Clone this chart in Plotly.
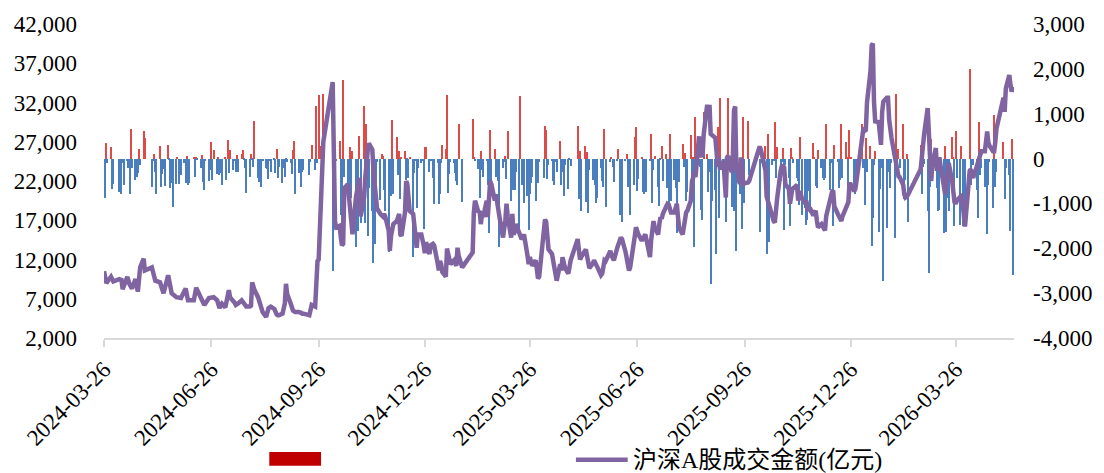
import pandas as pd
import plotly.graph_objects as go

# ---------------- data ----------------
start_date = "2024-03-26"
end_date = "2026-05-15"

market_holidays = [
    "2024-04-04", "2024-04-05", "2024-05-01", "2024-05-02", "2024-05-03", "2024-06-10",
    "2024-09-16", "2024-09-17", "2024-10-01", "2024-10-02", "2024-10-03", "2024-10-04",
    "2024-10-07", "2025-01-01", "2025-01-28", "2025-01-29", "2025-01-30", "2025-01-31",
    "2025-02-03", "2025-02-04", "2025-04-04", "2025-05-01", "2025-05-02", "2025-05-05",
    "2025-06-02", "2025-10-01", "2025-10-02", "2025-10-03", "2025-10-06", "2025-10-07",
    "2025-10-08", "2026-01-01", "2026-01-02", "2026-02-16", "2026-02-17", "2026-02-18",
    "2026-02-19", "2026-02-20", "2026-02-23", "2026-04-06", "2026-05-01", "2026-05-04",
    "2026-05-05",
]

# daily bar values (right axis), one sub-list per month
bars_2024 = [
    [-330, -880, 350, -100],
    [250, -680, -570, -740, -100, -800, -100, -600, -60, -220, -780, 650, -220, -480, -400, -330, 210, -140, 620, 460],
    [-640, -50, 100, -290, -780, 290, -630, -350, -230, -610, 310, -40, -660, -550, -1080, -570, 30, -570, -160, -360],
    [-100, -550, 60, -580, -550, 20, -420, 20, -30, -210, 80, -520, -700, -60, -490, -250, 360, -480, 190],
    [-350, 20, -360, -330, -580, 30, -470, 420, -320, 200, -250, -50, -290, 80, -300, 110, 200, -30, -200, -770, -400, 110, -40],
    [-180, 830, -440, -520, -290, -640, -50, -200, -240, -460, -60, -290, -40, -320, 210, -440, -180, -550, -220, -400, -30, -80],
    [-90, -350, 200, 400, -800, -330, -220, -640, -290, -250, -360, -70, 300, -250, 1170, -90, 1410, 270, 1450],
    [-2500, -150, -100, -60, 400, -1250, -1900, 1760, -400, -650, -580, 260, -880, 170, -1980, -440, -1610, 510],
    [-1430, 1170, -1430, 780, -1730, -660, -1170, -2330, -1900, -1100, -80, -920, 100, 50, -700, -1170, -2090, -420, -840, 860, -780],
    [480, -360, 170, -910, 40, 180, -480, -30, -440, 30, -2200, -330, -60, -1100, -200, -100, -50, -1580, 250, 250, -290, -60],
]
bars_2025 = [
    [-430, -1020, -100, -1020, -800, -100, 300, 220, 1420, -770, -350, -80, -100, -320, -500, -600, 770, -970],
    [880, 30, -60, -230, -880, 160, -250, -400, -50, -600, -1670, 630, -700, 220, -400, -330, -510, -1980],
    [-210, -70, 50, -450, 610, -940, -430, -710, -690, -290, -1600, 1390, -600, -450, -990, -840, -1600, -800, -550, -400, -940],
    [-250, -550, -80, -430, 730, 630, -450, -140, -60, -510, -600, -70, -290, 390, -600, -300, -840, -140, -680, -40, -160],
    [730, -900, 170, -1170, 270, -970, 150, -1210, -260, -470, -230, -580, -990, -880, -200, -490, -640, 660, -1080],
    [-70, 40, -180, -520, -50, 210, -1260, -440, -1410, -60, 110, -640, -360, -1260, -580, 490, 710, -730, -460, 30],
    [-750, -790, -140, -750, -60, 540, -990, -260, 60, -640, -1050, -40, 270, -490, 110, -660, -1010, 550, -950, -470, -650, -1650, -200],
    [-520, 330, -180, 130, -950, -750, 520, -400, 30, -1980, 930, -140, -180, -1140, -1360, 1040, 100, -750, -300, -2800, -950],
    [-700, -2120, 700, -1330, 1350, -150, -290, -1410, -400, 1350, -1080, -300, -1170, -840, -2070, -800, -200, -1580, 930, -980, 830, -360],
    [-1630, -100, -150, 270, -2120, 540, -1870, -140, -60, 820, -440, 260, -500, -70, 230, -1600, -140],
    [-430, -1500, 240, 30, -100, -440, -510, -1030, 490, -1250, -1100, -1470, -1360, -730, -1210, 350, 40, -620, -660, 190],
    [-210, -440, -470, -440, 760, -690, -70, -100, -1500, 300, -80, -660, -470, 780, -440, 360, 30, -730, 630, 30, -620, -800, -290],
]
bars_2026 = [
    [770, -200, -1030, 460, -300, 280, -1950, -1320, -150, 170, -1640, -670, -200, -80, -2740, -1540, -300, -150, -660, -100],
    [-1780, 1430, -300, 210, -200, 770, -910, -480, 100, -1410, 300, -800, -180, -120],
    [-1170, -2540, -640, 430, -510, -210, -660, -1160, -1140, -330, -1650, 290, -1630, -880, -1160, 490, 20, -1500, 610, -440, -1470, 280],
    [-1510, -1400, -1510, 2000, -580, -100, -150, -690, -1330, 820, -360, -200, -640, -440, -1690, -600, -70, -1110, 980, -640, -300],
    [380, -910, -210, -360, -1610, 430, -2590, -1170],
]

# line: 沪深A股成交金额(亿元), left axis
line_days_2024 = [
    "03-26", "03-27", "03-28", "04-01", "04-03", "04-08", "04-10", "04-11", "04-15", "04-17",
    "04-19", "04-22", "04-24", "04-26", "04-29", "04-30", "05-06", "05-09", "05-13", "05-16",
    "05-20", "05-23", "05-27", "05-31", "06-04", "06-06", "06-11", "06-13", "06-17", "06-20",
    "06-24", "06-28", "07-01", "07-02", "07-03", "07-04", "07-05", "07-08", "07-09", "07-10",
    "07-11", "07-12", "07-15", "07-16", "07-17", "07-18", "07-19", "07-22", "07-23", "07-24",
    "07-25", "07-26", "07-29", "07-30", "07-31", "08-01", "08-02", "08-05", "08-06", "08-07",
    "08-08", "08-09", "08-12", "08-13", "08-14", "08-15", "08-16", "08-19", "08-20", "08-21",
    "08-22", "08-23", "08-26", "08-27", "08-28", "08-29", "08-30", "09-02", "09-03", "09-04",
    "09-05", "09-06", "09-09", "09-10", "09-11", "09-12", "09-13", "09-18", "09-19", "09-20",
    "09-23", "09-24", "09-25", "09-26", "09-27", "09-30", "10-08", "10-09", "10-10", "10-11",
    "10-14", "10-15", "10-16", "10-17", "10-18", "10-21", "10-22", "10-23", "10-24", "10-25",
    "10-28", "10-29", "10-30", "10-31", "11-01", "11-04", "11-05", "11-06", "11-07", "11-08",
    "11-11", "11-12", "11-13", "11-14", "11-15", "11-18", "11-19", "11-20", "11-21", "11-22",
    "11-25", "11-26", "11-27", "11-28", "11-29", "12-02", "12-03", "12-04", "12-05", "12-06",
    "12-09", "12-10", "12-11", "12-12", "12-13", "12-16", "12-17", "12-18", "12-19", "12-20",
    "12-23", "12-24", "12-25", "12-26", "12-27", "12-30", "12-31",
]
line_vals_2024 = [
    10500, 9200, 9000, 9800, 9200, 9500, 9400, 8200, 9800, 8800,
    8300, 9500, 7900, 11000, 12100, 10600, 11000, 9300, 9100, 7700,
    10000, 7700, 7200, 7100, 8300, 6800, 6800, 8400, 7200, 6200,
    7100, 7200, 6800, 6000, 5800, 6200, 6400, 5900, 6800, 7600,
    8100, 7200, 6800, 6500, 6200, 6400, 6400, 6800, 6600, 6400,
    6300, 6000, 6000, 6100, 9100, 8300, 8100, 7200, 6800, 6000,
    5800, 5300, 4700, 5300, 5800, 5900, 6000, 5700, 5100, 5000,
    4900, 4900, 5100, 6000, 6400, 8900, 7600, 6400, 5800, 5500,
    5400, 5300, 5300, 5300, 5200, 5100, 5100, 4900, 5500, 6200,
    6000, 11000, 11800, 12000, 15500, 27000, 34600, 25000, 16900, 16100,
    16300, 14800, 13800, 14000, 21100, 21600, 19500, 17500, 15700, 15200,
    20000, 21000, 21600, 22400, 17500, 20000, 22500, 25000, 25800, 26800,
    26000, 23200, 21000, 19100, 18500, 17800, 17600, 17500, 17800, 17500,
    15700, 13100, 15000, 16100, 16500, 16900, 17500, 17800, 15200, 15000,
    18000, 22000, 21600, 18600, 18200, 17800, 15500, 15000, 13500, 15200,
    15200, 14000, 13800, 12800, 14200, 12700, 13800,
]
# 2025 and 2026: one value per trading day
line_vals_2025 = [
    14000, 13800, 11500, 10600, 11800, 11400, 10400, 9800, 13400, 12500,
    12000, 11400, 11900, 11600, 11200, 13500, 12500, 11000, 12900, 18000,
    19500, 18000, 18200, 16500, 17800, 17400, 19500, 17400, 19000, 22000,
    21600, 19500, 20300, 19100, 18500, 17400, 14800, 15700, 17000, 19100,
    17500, 14800, 17800, 15200, 15500, 16500, 15200, 15000, 14600, 14800,
    15200, 12500, 11400, 12300, 11500, 11200, 11900, 10600, 9600, 9800,
    16000, 17100, 16800, 15500, 13300, 12700, 11800, 11400, 10000, 9300,
    11400, 10600, 12300, 11800, 11000, 10200, 11000, 11900, 14600, 13500,
    12000, 12300, 13000, 13300, 12500, 11000, 10900, 11500, 11900, 11600,
    11400, 11000, 10000, 10200, 11000, 11900, 11800, 13100, 12500, 12000,
    11900, 13500, 14200, 14400, 14800, 14600, 13000, 12300, 11500, 10600,
    11000, 13500, 15000, 16100, 15500, 15200, 14400, 14800, 15000, 15200,
    14500, 12300, 14500, 16500, 16900, 16100, 15200, 16500, 17400, 17200,
    17800, 18800, 19100, 19000, 18600, 18000, 18000, 18600, 19100, 17400,
    16000, 15200, 16500, 17400, 18000, 18200, 19500, 22000, 22400, 23300,
    22500, 27700, 25000, 26600, 25000, 27900, 31700, 31000, 31700, 28000,
    27900, 27500, 25800, 23800, 25000, 23500, 24500, 20300, 19900, 25000,
    25200, 23100, 25000, 31000, 31500, 23700, 21600, 25000, 23300, 21600,
    21700, 21800, 22000, 26400, 26000, 24000, 23300, 20000, 19500, 18600,
    17500, 16900, 16700, 18500, 19800, 23300, 23900, 23900, 23700, 21600,
    21000, 19100, 20500, 21000, 21100, 21500, 19500, 20500, 20500, 19900,
    19100, 19500, 18500, 18200, 18600, 17600, 18000, 18200, 17000, 16100,
    16500, 16100, 15900, 15700, 17500, 19500, 20400, 20600, 20800, 18800,
    17800, 17400, 17200, 16900, 17500, 18800, 19000, 19300, 21600, 21600,
    20700, 21000, 22000,
]
line_vals_2026 = [
    27500, 28800, 28400, 28500, 32000, 36000, 39300, 39500, 32100, 29600,
    29500, 28000, 26600, 30800, 32100, 32600, 32600, 29800, 28500, 27500,
    25000, 24000, 23000, 22600, 22500, 21500, 20300, 19900, 20000, 20200,
    23500, 25400, 27000, 28000, 31300, 28000, 24500, 22000, 24000, 26200,
    23300, 24500, 25000, 24000, 21500, 20300, 21500, 22500, 24300, 22000,
    20300, 19300, 19100, 19500, 20000, 20100, 19100, 16500, 16200, 23300,
    23500, 22800, 22400, 23800, 24200, 24500, 25300, 25800, 25800, 27000,
    28300, 26900, 26500, 25800, 25800, 27000, 28700, 32600, 30800, 33800,
    35500, 34200, 33400, 33800, 33600,
]

x_tick_labels = ["2024-03-26", "2024-06-26", "2024-09-26", "2024-12-26", "2025-03-26",
                 "2025-06-26", "2025-09-26", "2025-12-26", "2026-03-26"]
left_ticks = [2000, 7000, 12000, 17000, 22000, 27000, 32000, 37000, 42000]
right_ticks = [-4000, -3000, -2000, -1000, 0, 1000, 2000, 3000]
right_tick_text = ["-4,000", "-3,000", "-2,000", "-1,000", "0", "1,000", "2,000", "3,000"]
line_name = "沪深A股成交金额(亿元)"

# ---------------- build ----------------
hol = set(market_holidays)
trade_days = [d for d in pd.bdate_range(start_date, end_date) if d.strftime("%Y-%m-%d") not in hol]
months = {}
for d in trade_days:
    months.setdefault(d.strftime("%Y-%m"), []).append(d)
month_lists = bars_2024 + bars_2025 + bars_2026
keys = sorted(months.keys())
bar_x, bar_y = [], []
for k, vals in zip(keys, month_lists):
    days = months[k]
    m = min(len(days), len(vals))
    bar_x += days[:m]
    bar_y += vals[:m]

cal_2025 = [d for d in trade_days if d.year == 2025]
cal_2026 = [d for d in trade_days if d.year == 2026]
line_x = [pd.Timestamp("2024-" + s) for s in line_days_2024] + cal_2025[:len(line_vals_2025)] + cal_2026[:len(line_vals_2026)]
line_y = line_vals_2024 + line_vals_2025[:len(cal_2025)] + line_vals_2026[:len(cal_2026)]

pos_color = "#DC4B47"
neg_color = "#4A7EBF"
bar_colors = [pos_color if v >= 0 else neg_color for v in bar_y]

fig = go.Figure()
fig.add_trace(go.Bar(x=bar_x, y=bar_y, marker=dict(color=bar_colors, line=dict(width=0)),
                     width=86400000 * 1.0, yaxis="y", showlegend=False))
fig.add_trace(go.Scatter(x=line_x, y=line_y, mode="lines", name=line_name,
                         line=dict(color="#8064A2", width=4.5), yaxis="y2", showlegend=False))

serif = "Liberation Serif, Times New Roman, serif"
tick_font = dict(family=serif, size=23, color="#000000")

fig.update_layout(
    width=1104, height=473, autosize=False,
    margin=dict(l=104, r=86, t=21, b=135),
    paper_bgcolor="white", plot_bgcolor="white",
    bargap=0, showlegend=False,
    xaxis=dict(type="date", range=[start_date, end_date],
               tickmode="array", tickvals=x_tick_labels, ticktext=x_tick_labels,
               tickangle=-45, tickfont=tick_font,
               showline=True, linecolor="#D9D9D9", linewidth=2,
               ticks="outside", ticklen=7, tickcolor="#D9D9D9", tickwidth=2,
               showgrid=False, zeroline=False),
    yaxis=dict(side="right", range=[-4000, 3000], tickmode="array",
               tickvals=right_ticks, ticktext=right_tick_text, tickfont=tick_font,
               showgrid=False, zeroline=False, showline=False, ticks="",
               ticklabelstandoff=18),
    yaxis2=dict(side="left", overlaying="y", range=[2000, 42000], tickmode="array",
                tickvals=left_ticks, tickformat=",", tickfont=tick_font,
                showgrid=False, zeroline=False, showline=False, ticks="",
                ticklabelstandoff=26),
)

# manual legend
fig.add_shape(type="rect", xref="paper", yref="paper",
              x0=(270 - 104) / 914, x1=(322 - 104) / 914,
              y0=(338 - 467) / 317, y1=(338 - 453) / 317,
              fillcolor="#C00000", line=dict(width=0))
fig.add_shape(type="line", xref="paper", yref="paper",
              x0=(578 - 104) / 914, x1=(630 - 104) / 914,
              y0=(338 - 461) / 317, y1=(338 - 461) / 317,
              line=dict(color="#8064A2", width=4.5))
fig.add_annotation(text=line_name, xref="paper", yref="paper",
                   x=(633 - 104) / 914, y=(338 - 461) / 317,
                   xanchor="left", yanchor="middle", showarrow=False,
                   font=dict(family="Liberation Serif, Noto Sans CJK SC", size=24, color="#000000"))

fig.write_html("out.html", config={"displayModeBar": False},
               post_script="document.body.style.margin='0px';document.body.style.overflow='hidden';")
